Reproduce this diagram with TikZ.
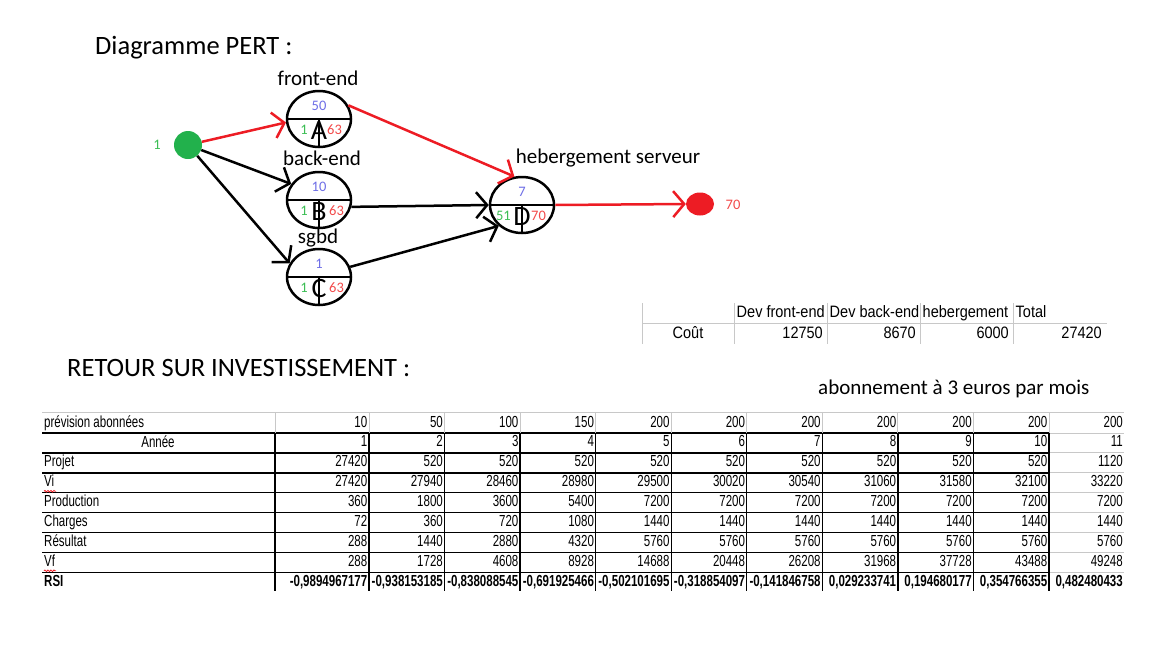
\documentclass[tikz,border=0pt]{standalone}
\usepackage{fontspec}
\setmainfont{Carlito}
\newfontfamily\cellfont[FakeStretch=0.72]{Liberation Sans}
\newfontfamily\costfont[FakeStretch=0.88]{Liberation Sans}
\usetikzlibrary{shapes}
\usetikzlibrary{arrows.meta}
\usetikzlibrary{decorations.pathmorphing}
\definecolor{paint red}{HTML}{ED1C24}
\definecolor{paint green}{HTML}{22B14C}
\definecolor{date blue}{HTML}{6E6EE6}
\definecolor{date green}{HTML}{3DBE55}
\definecolor{date red}{HTML}{F24A4A}
\definecolor{grid grey}{HTML}{C8C8C8}
\newcommand\fsz[1]{\fontsize{#1}{#1}\selectfont}

\tikzset{
  event/.style = {draw, line width = 2.5pt, ellipse, minimum width = 64pt,
    minimum height = 56pt, inner sep = 0pt},
  bullet/.style = {ellipse, inner sep = 0pt, minimum width = 28pt, minimum height = 28pt},
  link/.style = {line width = 2.5pt, -{Straight Barb[length = 11pt, width = 26pt]}},
  heading/.style = {anchor = west, inner sep = 0pt, font = \fsz{26.5}},
  tag/.style = {inner sep = 0pt, font = \fsz{21}},
  date/.style = {inner sep = 0pt, font = \fsz{14.5}},
  letter/.style = {inner sep = 0pt, font = \fsz{28}},
  cell/.style = {inner sep = 0pt, text height = 11pt, text depth = 3pt, font = \cellfont\fsz{16}},
  costcell/.style = {cell, font = \costfont\fsz{16.5}},
  darkline/.style = {line width = 1.4pt, black},
  greyline/.style = {line width = 1pt, grid grey}
}

\begin{document}
\begin{tikzpicture}[x = 1pt, y = -1pt]
  \useasboundingbox (0, 0) rectangle (1156, 648);

  % titres
  \node[heading] (titlePert) at (95, 48) {Diagramme PERT :};
  \node[heading] (titleRsi) at (67, 368) {RETOUR SUR INVESTISSEMENT :};
  \node[tag, anchor = west] (price) at (818, 389) {abonnement à 3 euros par mois};

  % reseau PERT
  \node[bullet, fill = paint green] (start) at (188, 145) {};
  \node[date, text = date green] (startDate) at (157, 145) {1};
  \node[bullet, fill = paint red, minimum height = 23pt] (finish) at (700, 204) {};
  \node[date, text = date red] (finishDate) at (733, 205) {70};

  \foreach \name/\x/\y/\dur/\early/\late/\ex in {A/319/119/50/1/63/0,
      B/319/200/10/1/63/2, C/319/277/1/1/63/2, D/522/205/7/51/70/1} {
    \node[event] (\name) at (\x, \y) {};
    \draw[line width = 2.5pt] (\name.west) -- (\name.east);
    \draw[line width = 2.5pt] (\name.center) -- (\name.south);
    \node[date, text = date blue] (\name dur) at (\x, \y - 13) {\dur};
    \node[date, text = date green, anchor = east] (\name early) at (\x - 11, \y + 11) {\early};
    \node[date, text = date red, anchor = west] (\name late) at (\x + 8 + \ex, \y + 11) {\late};
    \node[letter] (\name letter) at (\x, \y + 12) {\name};
  }

  \node[tag] (tagA) at (318, 78) {front-end};
  \node[tag] (tagB) at (322, 158) {back-end};
  \node[tag] (tagC) at (318, 238) {sgbd};
  \node[tag] (tagD) at (608, 158) {hebergement serveur};

  \draw[link, paint red] (start) -- (A.186);
  \draw[link] (start) -- (B.150);
  \draw[link] (start) -- (C.155);
  \draw[link, paint red] (A.25) -- (D.105);
  \draw[link] (B.-12) -- (D.180);
  \draw[link] (C.18) -- (D.222);
  \draw[link, paint red] (D.east) -- (finish.west);

  % tableau des couts
  \foreach \x in {642, 734, 827, 920, 1013}
    \draw[greyline] (\x, 303) -- (\x, 344);
  \draw[greyline] (642, 323) -- (1107, 323);
  \foreach \head [count = \c] in {Dev front-end, Dev back-end, hebergement, Total}
    \node[costcell, anchor = west] (costHead\c) at ({643.5 + 93*\c}, 313) {\head};
  \node[costcell] (costLabel) at (688, 334) {Coût};
  \foreach \v [count = \c] in {12750, 8670, 6000, 27420}
    \node[costcell, anchor = east] (cost\c) at ({732 + 93*\c - 2}, 334) {\v};

  % tableau RSI
  \draw[greyline] (42, 412) -- (1124, 412);
  \foreach \r in {1, ..., 8} {
    \draw[darkline] (42, {433 + 19.9*(\r-1)}) -- (1049, {433 + 19.9*(\r-1)});
    \draw[greyline] (1049, {433 + 19.9*(\r-1)}) -- (1124, {433 + 19.9*(\r-1)});
  }
  \foreach \x in {275, 369, 444.55, 520.1, 595.65, 671.2, 746.75, 822.3, 897.85, 973.4, 1049} {
    \draw[greyline] (\x, 412) -- (\x, 433);
    \draw[darkline] (\x, 433) -- (\x, 591);
  }

  \foreach \lbl [count = \r] in {prévision abonnées, , Projet, Vi, Production, Charges, Résultat, Vf}
    \node[cell, anchor = west] (rowHead\r) at (44, {423 + 19.9*(\r-1)}) {\lbl};
  \node[cell] (rowYear) at (158, 443) {Année};
  \node[cell, anchor = west, font = \cellfont\fsz{16}\bfseries] (rowRsi) at (44, 582) {RSI};
  \foreach \r in {4, 8}
    \draw[paint red, line width = 0.8pt, decorate,
      decoration = {snake, amplitude = 0.8pt, segment length = 3pt}]
      (44, {423 + 19.9*(\r-1) + 8.5}) -- (56, {423 + 19.9*(\r-1) + 8.5});

  \foreach \r/\vals in {
      1/{10, 50, 100, 150, 200, 200, 200, 200, 200, 200, 200},
      2/{1, 2, 3, 4, 5, 6, 7, 8, 9, 10, 11},
      3/{27420, 520, 520, 520, 520, 520, 520, 520, 520, 520, 1120},
      4/{27420, 27940, 28460, 28980, 29500, 30020, 30540, 31060, 31580, 32100, 33220},
      5/{360, 1800, 3600, 5400, 7200, 7200, 7200, 7200, 7200, 7200, 7200},
      6/{72, 360, 720, 1080, 1440, 1440, 1440, 1440, 1440, 1440, 1440},
      7/{288, 1440, 2880, 4320, 5760, 5760, 5760, 5760, 5760, 5760, 5760},
      8/{288, 1728, 4608, 8928, 14688, 20448, 26208, 31968, 37728, 43488, 49248}}
    \foreach \v [count = \c] in \vals
      \node[cell, anchor = east] (val\r-\c) at ({369 + 75.55*(\c-1) - 1.5}, {423 + 19.9*(\r-1)}) {\v};

  \foreach \v [count = \c] in {{-0,9894967177}, {-0,938153185}, {-0,838088545},
      {-0,691925466}, {-0,502101695}, {-0,318854097}, {-0,141846758},
      {0,029233741}, {0,194680177}, {0,354766355}, {0,482480433}}
    \node[cell, anchor = east, font = \cellfont\fsz{16}\bfseries] (rsi\c) at ({369 + 75.55*(\c-1) - 1.5}, 582) {\v};
\end{tikzpicture}
\end{document}
